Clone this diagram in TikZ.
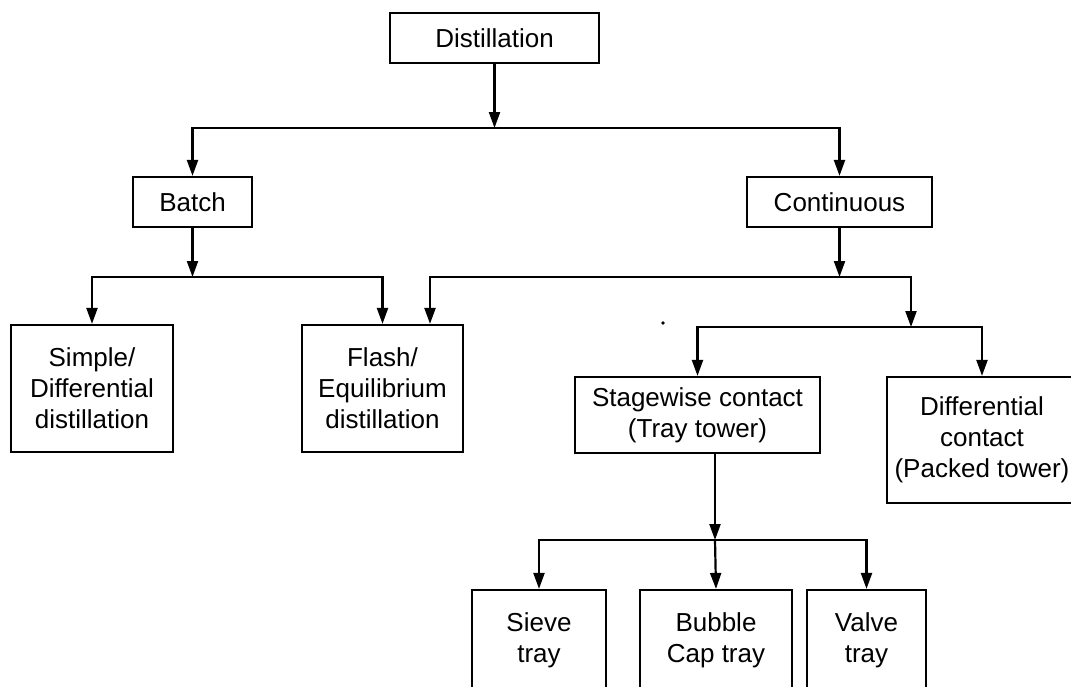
\documentclass[tikz,border=0pt]{standalone}
\usepackage{fontspec}
\setmainfont{Liberation Sans}
\usetikzlibrary{arrows.meta,calc}
\begin{document}
\begin{tikzpicture}[x=1pt,y=-1pt,
  box/.style={draw, line width=2.2pt, align=center, inner sep=0pt, font=\fontsize{26}{31}\selectfont},
  con/.style={line width=2.2pt},
  arr/.style={con, -{Triangle[length=16pt,width=11pt]}}]
\useasboundingbox (0,0) rectangle (1071,686);
% boxes
\node[box, minimum width=209pt, minimum height=50pt] (dist) at (494.5,38) {Distillation};
\node[box, minimum width=119pt, minimum height=50pt] (batch) at (192.5,202) {Batch};
\node[box, minimum width=185pt, minimum height=50pt] (cont) at (839.5,202) {Continuous};
\node[box, minimum width=162pt, minimum height=127pt] (simple) at (92,388.5) {Simple/\\Differential\\distillation};
\node[box, minimum width=161pt, minimum height=127pt] (flash) at (382.5,388.5) {Flash/\\Equilibrium\\distillation};
\node[box, minimum width=245pt, minimum height=76pt] (stage) at (697.5,415) {Stagewise contact\\(Tray tower)};
\node[box, minimum width=190pt, minimum height=126pt] (diff) at (982,440) {Differential\\contact\\(Packed tower)};
\node[box, minimum width=134pt, minimum height=100pt] (sieve) at (539,640) {Sieve\\tray};
\node[box, minimum width=152pt, minimum height=100pt] (bubble) at (716,640) {Bubble\\Cap tray};
\node[box, minimum width=119pt, minimum height=100pt] (valve) at (866.5,640) {Valve\\tray};
% junctions
\coordinate (j1) at (494.5,128);
\coordinate (j2) at (192.5,277);
\coordinate (j3) at (839.5,277);
\coordinate (j4) at (911,327);
\coordinate (j5) at (715,540);
% connectors
\draw[arr] (dist.south) -- (j1);
\draw[arr] (j1) -| (batch.north);
\draw[arr] (j1) -| (cont.north);
\draw[arr] (batch.south) -- (j2);
\draw[arr] (j2) -| (simple.north);
\draw[arr] (j2) -| (flash.north);
\draw[arr] (cont.south) -- (j3);
\draw[arr] (j3) -| ([xshift=47.5pt]flash.north);
\draw[arr] (j3) -| (j4);
\draw[arr] (j4) -| (stage.north);
\draw[arr] (j4) -| (diff.north);
\draw[arr] ([xshift=17.5pt]stage.south) -- (j5);
\draw[arr] (j5) -| (sieve.north);
\draw[arr] (j5) -- (bubble.north);
\draw[arr] (j5) -| (valve.north);
% speck
\fill (663,323) circle (1.8pt);
\end{tikzpicture}
\end{document}
